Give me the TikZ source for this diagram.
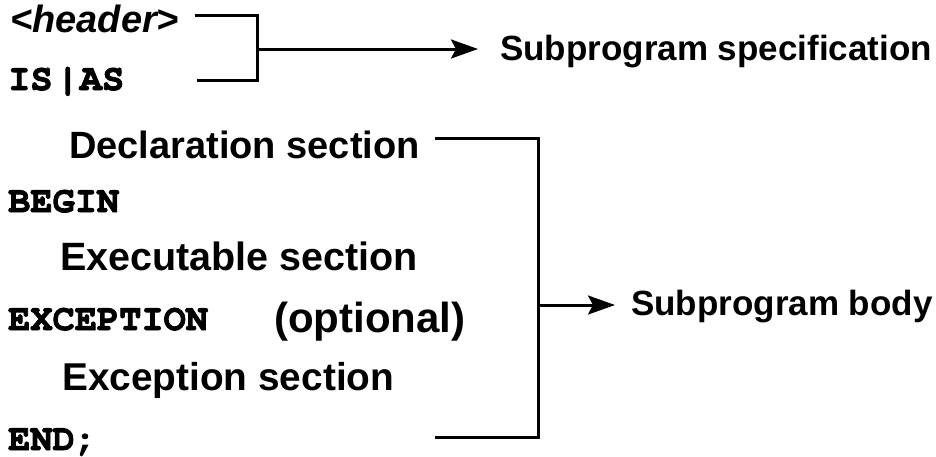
\documentclass[tikz,border=0pt]{standalone}
\usepackage[T1]{fontenc}
\usepackage{fontspec}
\setmainfont{Liberation Sans}
\newcommand\codefont{\fontencoding{T1}\fontfamily{pcr}\fontseries{b}\selectfont}
\newcommand\heavy[1]{\special{pdf:literal 2 Tr 0.9 w}#1\special{pdf:literal 0 Tr}}
\usetikzlibrary{arrows.meta}

\begin{document}
\begin{tikzpicture}[x=1pt,y=-1pt,
  sect/.style={anchor=base west,inner sep=0pt,font=\fontsize{38}{40}\selectfont\bfseries},
  kw/.style={anchor=base west,inner sep=0pt,font=\fontsize{37}{40}\codefont},
  part/.style={anchor=base west,inner sep=0pt,font=\fontsize{35}{40}\selectfont\bfseries},
  brace/.style={line width=3pt},
  pointer/.style={line width=3pt,-{Stealth[length=27pt,width=19pt,inset=5pt]}}]
\useasboundingbox (0,0) rectangle (936,456);

% Program lines
\node[sect,font=\fontsize{38}{40}\selectfont\bfseries\itshape] (hdr) at (10,32) {<header>};
\node[kw] (isas) at (8,90) {\heavy{IS\hspace{4pt}|\hspace{1pt}AS}};
\node[sect] (decl) at (69,158) {Declaration section};
\node[kw] (begin) at (8,212) {\heavy{BEGIN}};
\node[sect,font=\fontsize{39.5}{40}\selectfont\bfseries] (exec) at (60,270) {Executable section};
\node[kw] (exc) at (8,330) {\heavy{EXCEPTION}};
\node[sect,font=\fontsize{42}{44}\selectfont\bfseries] (opt) at (274,332) {(optional)};
\node[sect,font=\fontsize{38.8}{40}\selectfont\bfseries] (excsec) at (62,390) {Exception section};
\node[kw] (end) at (8,450) {\heavy{END;}};

% Parts
\node[part] (spec) at (500,60) {Subprogram specification};
\node[part] (body) at (631,315) {Subprogram body};

% Specification bracket
\coordinate (specA) at (195,15);
\coordinate (specB) at (197,80);
\coordinate (specTop) at (257,15);
\coordinate (specBot) at (257,80);
\coordinate (specMid) at (257,49);
\coordinate (specTip) at (478,49);
\draw[brace] (specA) -- (specTop) -- (specBot) -- (specB);
\draw[pointer] (specMid) -- (specTip);

% Body bracket
\coordinate (bodyA) at (435,138);
\coordinate (bodyB) at (435,437);
\coordinate (bodyTop) at (538,138);
\coordinate (bodyBot) at (538,437);
\coordinate (bodyMid) at (538,305);
\coordinate (bodyTip) at (615,305);
\draw[brace] (bodyA) -- (bodyTop) -- (bodyBot) -- (bodyB);
\draw[pointer] (bodyMid) -- (bodyTip);
\end{tikzpicture}
\end{document}
